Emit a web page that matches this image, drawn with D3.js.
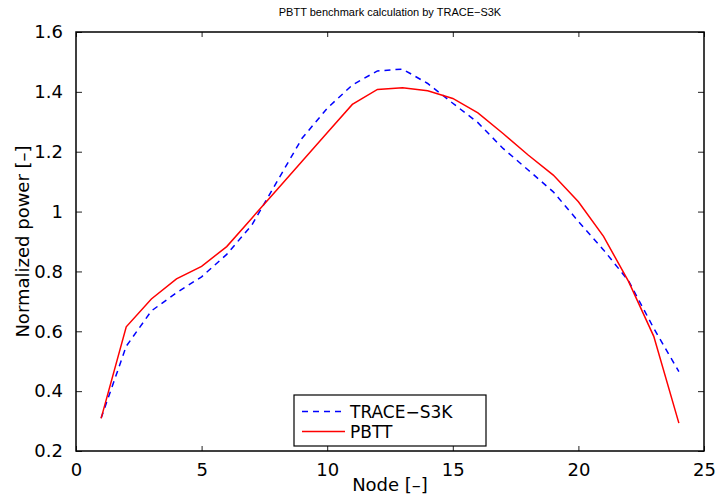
<!DOCTYPE html>
<html>
<head>
<meta charset="utf-8">
<script src="https://cdn.jsdelivr.net/npm/d3@7"></script>
<style>
  body { margin: 0; background: #fff; }
  svg { display: block; }
  text { font-family: "DejaVu Sans", sans-serif; fill: #000; }
</style>
</head>
<body>
<div id="chart"></div>
<script>
// node numbers along the rod
const nodes = d3.range(1, 25);

// normalized power
const traceS3K = [0.31, 0.55, 0.668, 0.729, 0.782, 0.857, 0.955, 1.10, 1.245, 1.345, 1.423, 1.47,
                  1.476, 1.428, 1.362, 1.297, 1.211, 1.139, 1.066, 0.967, 0.872, 0.768, 0.61, 0.465];
const pbtt = [0.309, 0.615, 0.708, 0.775, 0.817, 0.883, 0.978, 1.073, 1.168, 1.263, 1.358, 1.408,
              1.414, 1.404, 1.378, 1.33, 1.261, 1.189, 1.122, 1.033, 0.917, 0.766, 0.583, 0.293];

const xTicks = [0, 5, 10, 15, 20, 25];
const yTicks = [0.2, 0.4, 0.6, 0.8, 1, 1.2, 1.4, 1.6];

const seriesNames = ["TRACE\u2212S3K", "PBTT"];

// set the dimensions and margins of the graph
const W = 717, H = 497;
const margin = {top: 32, right: 13, bottom: 46, left: 76},
  width = W - margin.left - margin.right,
  height = H - margin.top - margin.bottom;

const svg = d3.select("#chart")
  .append("svg")
  .attr("width", W)
  .attr("height", H);

const g = svg.append("g")
  .attr("transform", `translate(${margin.left},${margin.top})`);

const x = d3.scaleLinear().domain([0, 25]).range([0, width]);
const y = d3.scaleLinear().domain([0.2, 1.6]).range([height, 0]);

// bottom axis with inward ticks
g.append("g")
  .attr("transform", `translate(0,${height})`)
  .call(d3.axisBottom(x).tickValues(xTicks).tickSizeInner(-5).tickSizeOuter(0).tickPadding(12));

// left axis with inward ticks
g.append("g")
  .call(d3.axisLeft(y).tickValues(yTicks).tickSizeInner(-6).tickSizeOuter(0).tickPadding(13)
    .tickFormat(d => d3.format("~g")(d)));

// top and right mirrored ticks
g.append("g")
  .call(d3.axisTop(x).tickValues(xTicks).tickSizeInner(-5).tickSizeOuter(0).tickFormat(""));
g.append("g")
  .attr("transform", `translate(${width},0)`)
  .call(d3.axisRight(y).tickValues(yTicks).tickSizeInner(-6).tickSizeOuter(0).tickFormat(""));

svg.selectAll(".tick text").style("font-size", "18px").style("font-family", "DejaVu Sans, sans-serif");
svg.selectAll(".domain").attr("stroke", "none");
svg.selectAll(".tick line").attr("stroke", "#222").attr("stroke-width", 1);

// box around the plot
g.append("rect")
  .attr("width", width)
  .attr("height", height)
  .attr("fill", "none")
  .attr("stroke", "#000")
  .attr("stroke-width", 1.5);

const line = d3.line()
  .x((d, i) => x(nodes[i]))
  .y(d => y(d));

// TRACE-S3K dashed blue
g.append("path")
  .datum(traceS3K)
  .attr("fill", "none")
  .attr("stroke", "#0000ff")
  .attr("stroke-width", 1.5)
  .attr("stroke-dasharray", "6,5")
  .attr("d", line);

// PBTT solid red
g.append("path")
  .datum(pbtt)
  .attr("fill", "none")
  .attr("stroke", "#ff0000")
  .attr("stroke-width", 1.5)
  .attr("d", line);

// title
svg.append("text")
  .attr("x", margin.left + width / 2)
  .attr("y", 16)
  .attr("text-anchor", "middle")
  .style("font-family", "Liberation Sans, Arial, sans-serif")
  .style("font-size", "11px")
  .text("PBTT benchmark calculation by TRACE\u2212S3K");

// axis labels
svg.append("text")
  .attr("x", margin.left + width / 2)
  .attr("y", 491)
  .attr("text-anchor", "middle")
  .style("font-size", "18px")
  .text("Node [\u2013]");

svg.append("text")
  .attr("transform", `translate(29,${margin.top + height / 2}) rotate(-90)`)
  .attr("text-anchor", "middle")
  .style("font-size", "18px")
  .text("Normalized power [\u2013]");

// legend
const legend = svg.append("g").attr("transform", "translate(294,395)");
legend.append("rect")
  .attr("width", 192)
  .attr("height", 51)
  .attr("fill", "#fff")
  .attr("stroke", "#000")
  .attr("stroke-width", 1.2);

const legendStyles = [
  {color: "#0000ff", dash: "6,5"},
  {color: "#ff0000", dash: null}
];
seriesNames.forEach((name, i) => {
  const row = legend.append("g").attr("transform", `translate(0,${16.5 + i * 20})`);
  row.append("line")
    .attr("x1", 8).attr("x2", 51)
    .attr("stroke", legendStyles[i].color)
    .attr("stroke-width", 1.5)
    .attr("stroke-dasharray", legendStyles[i].dash);
  row.append("text")
    .attr("x", 56)
    .attr("dy", "0.36em")
    .style("font-size", "17px")
    .text(name);
});
</script>
</body>
</html>
